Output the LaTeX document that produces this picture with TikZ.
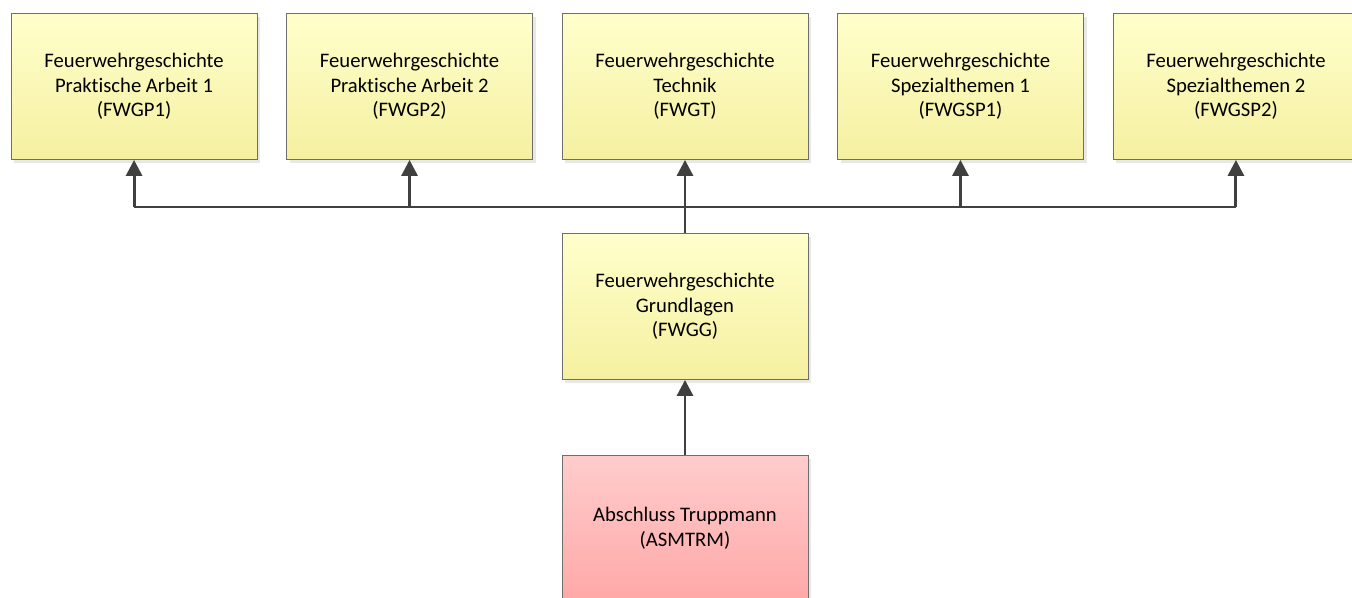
\documentclass[tikz,border=0pt]{standalone}
\usepackage{fontspec}
\setmainfont{Carlito}[Ligatures=NoCommon]
\usepackage{tikz}
\usetikzlibrary{arrows.meta,positioning,shadows}

\definecolor{CourseTop}{HTML}{FFFFCC}
\definecolor{CourseBottom}{HTML}{F5F0A0}
\definecolor{ExamTop}{HTML}{FFCCCC}
\definecolor{ExamBottom}{HTML}{FFA8A8}
\definecolor{BoxBorder}{HTML}{6E6E6E}
\definecolor{LinkGray}{HTML}{404040}

\begin{document}
\begin{tikzpicture}[
            x=0.75pt,y=-0.75pt,
            every node/.style={on grid},
            node distance=165pt and 206.6pt,
            course/.style={rectangle,draw=BoxBorder,line width=0.6pt,
                top color=CourseTop,bottom color=CourseBottom,
                minimum width=184.5pt,minimum height=109.5pt,
                align=center,font=\fontsize{15.5}{18.4}\selectfont,
                drop shadow={shadow xshift=2.5pt,shadow yshift=-2.5pt,fill=black!18}},
            exam/.style={course,top color=ExamTop,bottom color=ExamBottom},
            link/.style={draw=LinkGray,line width=2.2pt},
            >={Triangle[length=12pt,width=12pt]}
        ]
        \useasboundingbox (0,0) rectangle (1352,597);

        % Draw middle %
        \node[course] (fwgg) at (685,306.5) {Feuerwehrgeschichte\\Grundlagen\\(FWGG)};
        \node[exam,below = 166.5pt of fwgg] (asmtrm) {Abschluss Truppmann\\(ASMTRM)};

        % Draw top row %
        \node[course,above = of fwgg] (fwgt) {Feuerwehrgeschichte\\Technik\\(FWGT)};
        \node[course,left = of fwgt] (fwgp2) {Feuerwehrgeschichte\\Praktische Arbeit 2\\(FWGP2)};
        \node[course,left = of fwgp2] (fwgp1) {Feuerwehrgeschichte\\Praktische Arbeit 1\\(FWGP1)};
        \node[course,right = of fwgt] (fwgsp1) {Feuerwehrgeschichte\\Spezialthemen 1\\(FWGSP1)};
        \node[course,right = of fwgsp1] (fwgsp2) {Feuerwehrgeschichte\\Spezialthemen 2\\(FWGSP2)};

        \coordinate (bus) at (685,207);

        % Draw arrows %
        \draw[link,->] (asmtrm.north) -- (fwgg);
        \draw[link,->] (fwgg) -- (fwgt);
        \draw[link] (bus -| fwgp1) -- (bus -| fwgsp2);
        \foreach \n in {fwgp1,fwgp2,fwgsp1,fwgsp2}
            \draw[link,->] (bus -| \n) -- (\n);
\end{tikzpicture}
\end{document}
